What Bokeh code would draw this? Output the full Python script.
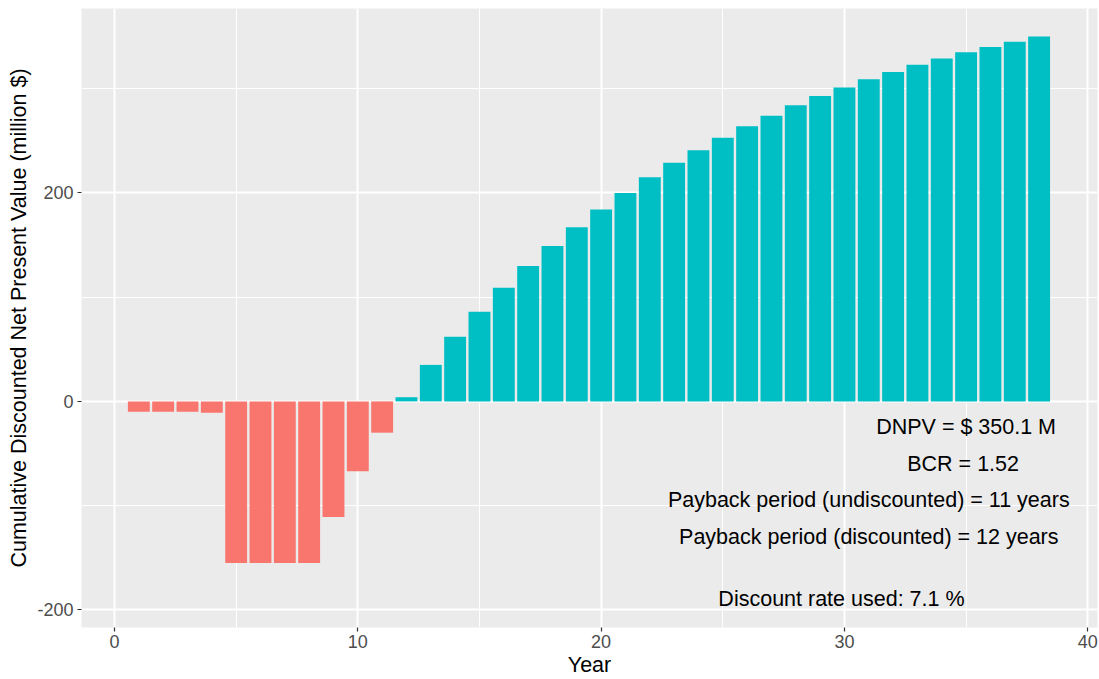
from bokeh.plotting import figure
from bokeh.models import FixedTicker, Range1d, ColumnDataSource, PrintfTickFormatter
from bokeh.core.properties import value
from bokeh.embed import file_html
from bokeh.resources import INLINE

# ---- data -------------------------------------------------------------
years = list(range(1, 39))
cum_dnpv = [-10, -10, -10, -11, -155, -155, -155, -155, -111, -67, -30, 4,
            35, 62, 86, 109, 130, 149, 167, 184, 200, 215, 229, 241, 253,
            264, 274, 284, 293, 301, 309, 316, 323, 329, 335, 340, 345, 350.1]

x_ticks = [0, 10, 20, 30, 40]
x_minor = [5, 15, 25, 35]
y_ticks = [-200, 0, 200]
y_minor = [-100, 100, 300]

ann_texts = ["DNPV = $ 350.1 M",
             "BCR =  1.52",
             "Payback period (undiscounted) = 11 years",
             "Payback period (discounted) = 12 years",
             "Discount rate used:  7.1 %"]
ann_x = [35, 35, 31, 31, 30]
ann_y = [-25, -60, -95, -130, -190]

NEG = "#F8766D"
POS = "#00BFC4"
FONT = "Liberation Sans"

colors = [NEG if v < 0 else POS for v in cum_dnpv]
src = ColumnDataSource(dict(year=years, val=cum_dnpv, color=colors))
ann = ColumnDataSource(dict(x=ann_x, y=ann_y, t=ann_texts))

p = figure(width=1099, height=679, output_backend="svg", toolbar_location=None,
           x_range=Range1d(-1.356, 40.40), y_range=Range1d(-216.9, 376.9),
           min_border_left=81, min_border_right=2, min_border_top=8,
           min_border_bottom=51)

p.background_fill_color = "#EBEBEB"
p.border_fill_color = "white"
p.outline_line_color = None

p.vbar(x="year", top="val", bottom=0, width=0.9, color="color",
       line_color=None, source=src)

p.text(x="x", y="y", text="t", source=ann, text_font=value(FONT),
       text_font_size="21.5px", text_align="center", text_baseline="middle",
       text_color="black")

# axes
p.xaxis.ticker = FixedTicker(ticks=x_ticks, minor_ticks=x_minor)
p.yaxis.ticker = FixedTicker(ticks=y_ticks, minor_ticks=y_minor)
p.yaxis.formatter = PrintfTickFormatter(format="%d")
for ax in (p.xaxis, p.yaxis):
    ax.axis_line_color = None
    ax.major_tick_line_color = "#333333"
    ax.major_tick_line_width = 1.2
    ax.major_tick_out = 4
    ax.major_tick_in = 0
    ax.minor_tick_line_color = None
    ax.major_label_text_font = FONT
    ax.major_label_text_font_size = "18px"
    ax.major_label_text_color = "#4D4D4D"
    ax.axis_label_text_font = FONT
    ax.axis_label_text_font_size = "21.5px"
    ax.axis_label_text_font_style = "normal"
    ax.axis_label_text_color = "black"

p.xaxis.major_label_standoff = 3
p.yaxis.major_label_standoff = 4
p.xaxis.axis_label = "Year"
p.xaxis.axis_label_standoff = 2
p.yaxis.axis_label = "Cumulative Discounted Net Present Value (million $)"
p.yaxis.axis_label_standoff = 3

# grids
for g in (p.xgrid, p.ygrid):
    g.grid_line_color = "white"
    g.grid_line_width = 2
    g.minor_grid_line_color = "white"
    g.minor_grid_line_width = 1

open("out.html", "w").write(file_html(p, INLINE))
